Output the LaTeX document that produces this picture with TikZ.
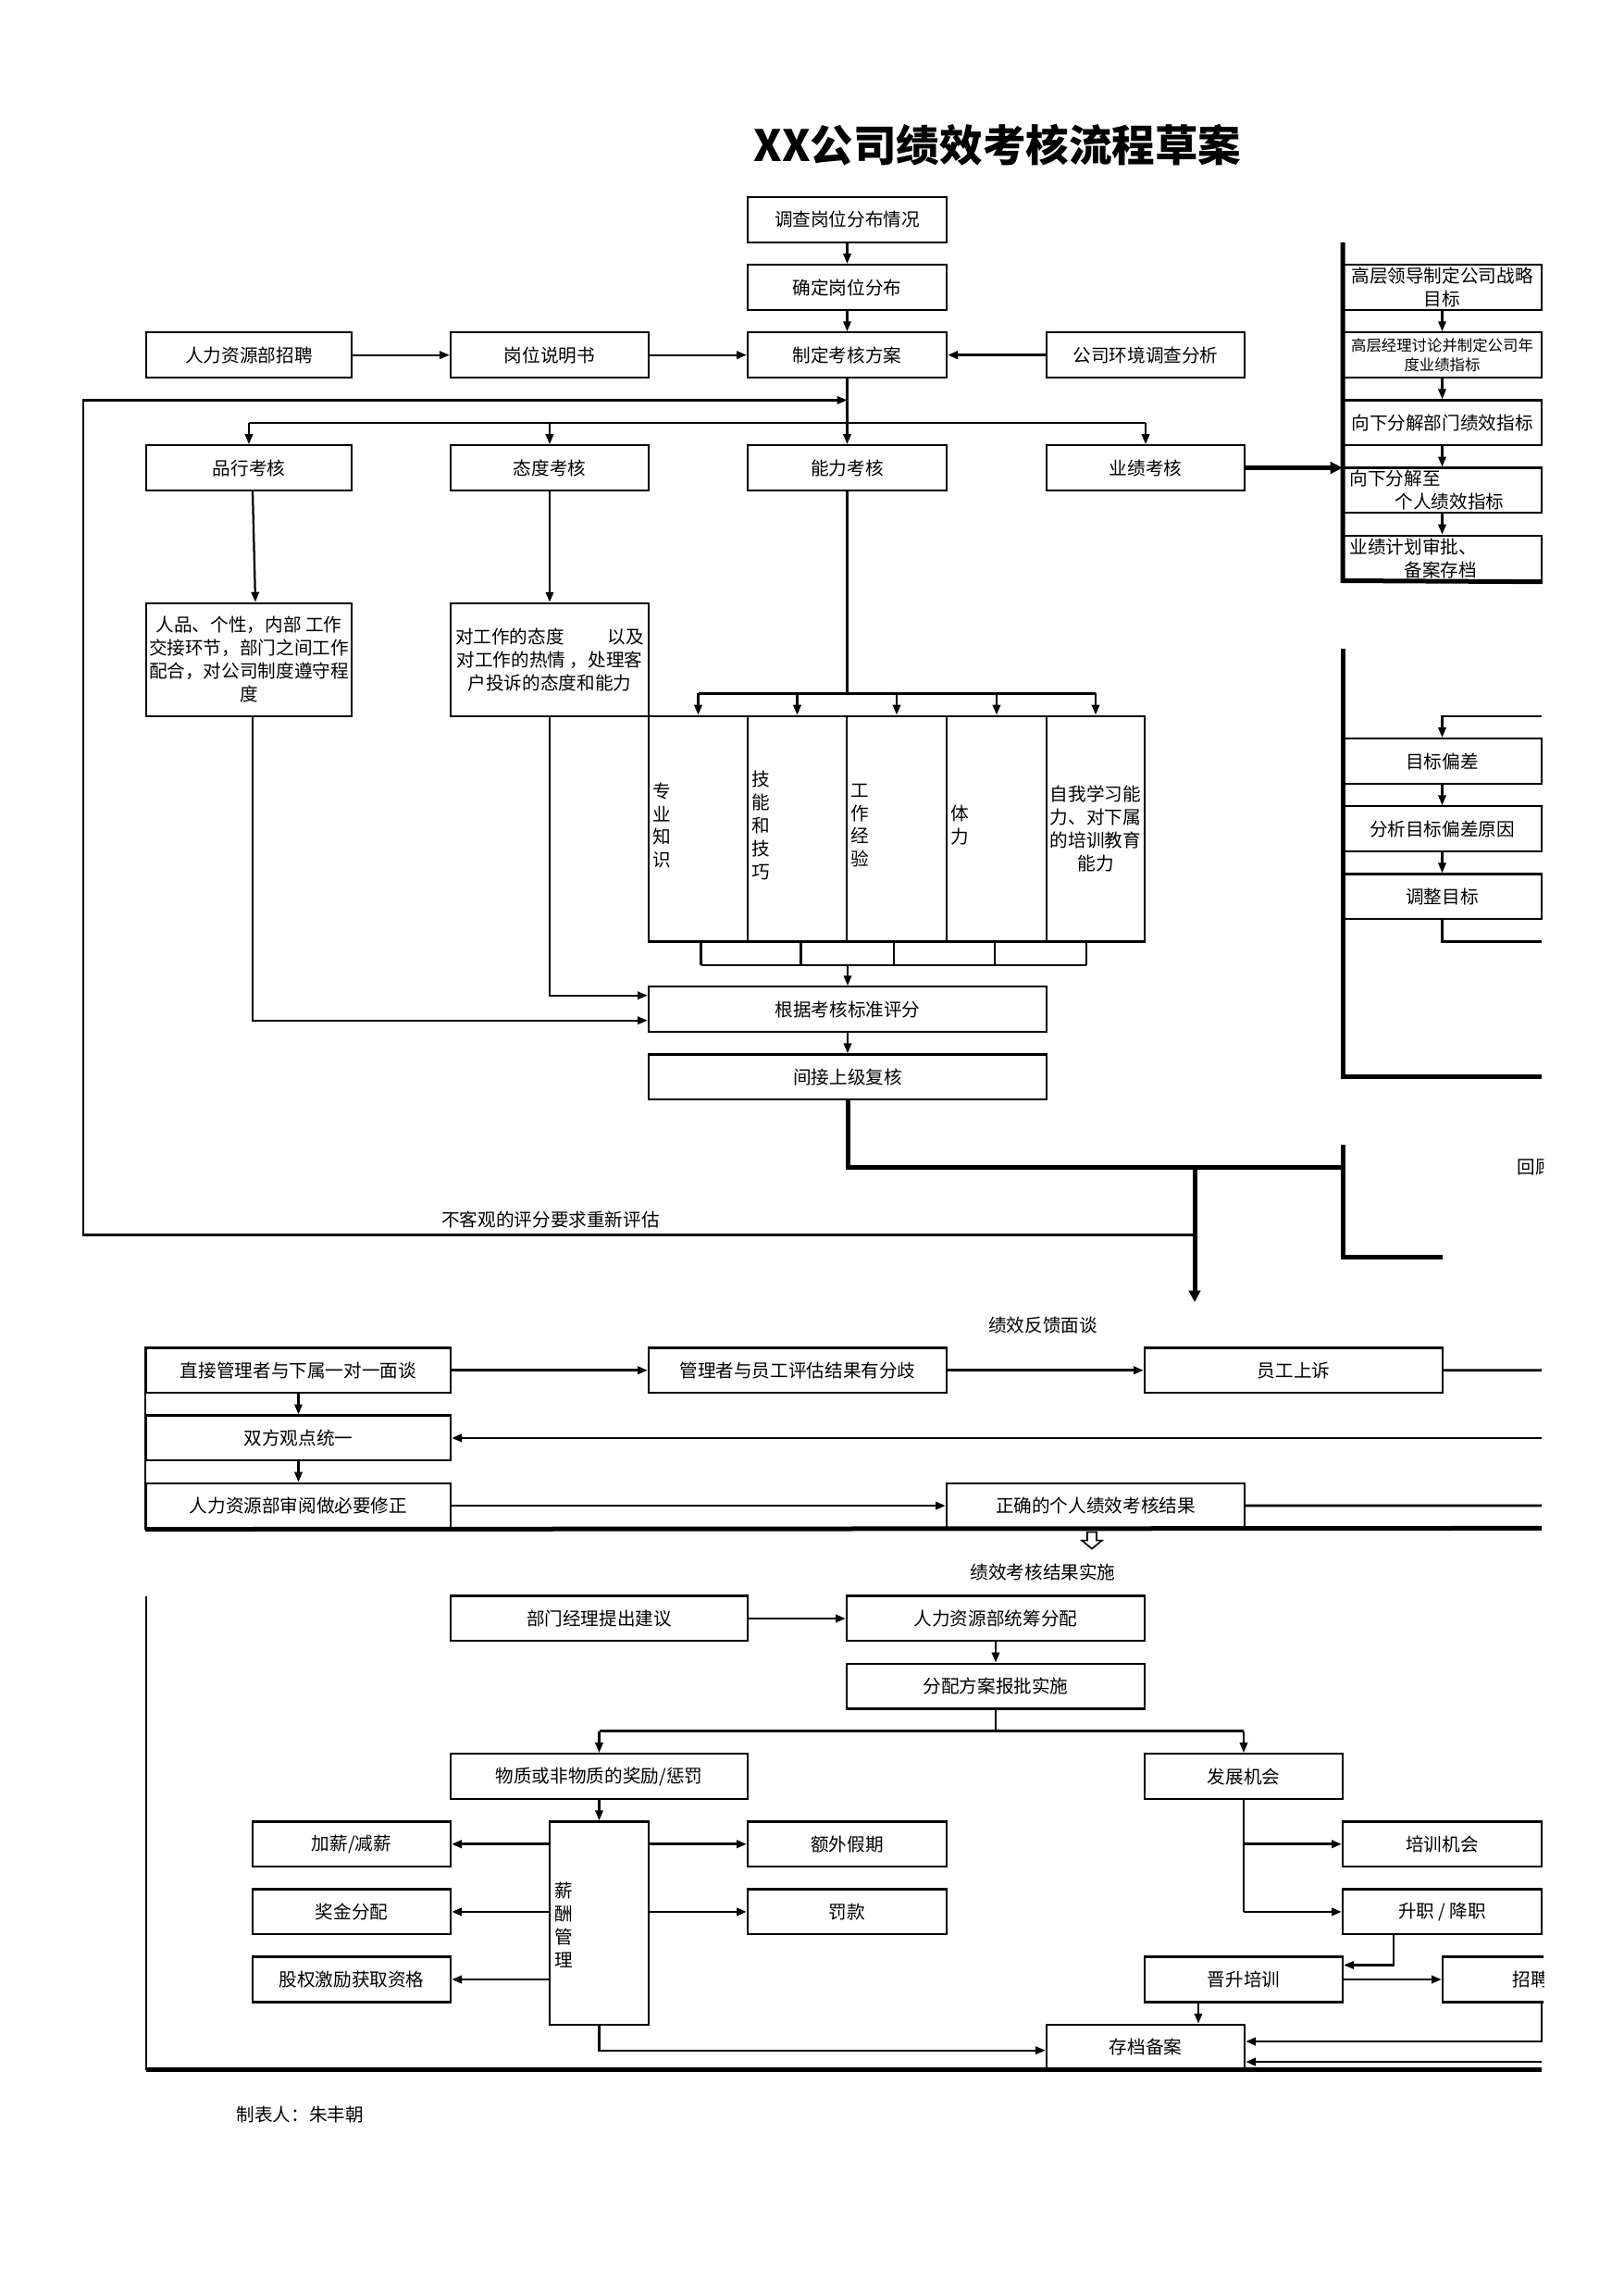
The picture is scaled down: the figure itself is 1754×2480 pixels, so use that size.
\documentclass[tikz,border=0pt]{standalone}
\usepackage{fontspec}
\setmainfont{Noto Sans CJK SC}
\usetikzlibrary{arrows.meta,calc}
\newlength\pxl
\setlength\pxl{0.12mm}
\newcommand\fs{\fontsize{6.7pt}{8.5pt}\selectfont}
\newcommand\fss{\fontsize{5.6pt}{7.4pt}\selectfont}
\newcommand\bxn[7][]{\node[bx,minimum width={(#5-#3)*0.12mm},minimum height={(#6-#4)*0.12mm},#1] (#2) at ({(#3+#5)/2},{(#4+#6)/2}) {#7};}
\tikzset{
  bx/.style={draw,line width=0.28mm,inner sep=0pt,font=\fs},
  ln/.style={line width=0.27mm},
  mid/.style={line width=0.34mm},
  thk/.style={line width=0.6mm},
  arr/.style={-{Triangle[length=1.3mm,width=1.0mm]}},
  lbl/.style={inner sep=0pt,font=\fs},
}
\begin{document}
\begin{tikzpicture}[x=0.12mm,y=-0.12mm]
\useasboundingbox (0,0) rectangle (1754,2480);
\node[inner sep=0pt,font=\fontsize{15.9pt}{19pt}\selectfont\bfseries] (title) at (1078,157) {XX公司绩效考核流程草案};
\begin{scope}
\clip (0,0) rectangle (1668,2480);
% ---- top boxes
\bxn{t1}{808}{213}{1023}{261.8}{调查岗位分布情况}
\bxn{t2}{808}{286.1}{1023}{334.9}{确定岗位分布}
\bxn{hr}{158}{359.3}{380}{408}{人力资源部招聘}
\bxn{gw}{487}{359.3}{701}{408}{岗位说明书}
\bxn{zd}{808}{359.3}{1023}{408}{制定考核方案}
\bxn{hj}{1131}{359.3}{1345}{408}{公司环境调查分析}
\bxn{px}{158}{481.2}{380}{529.9}{品行考核}
\bxn{td}{487}{481.2}{701}{529.9}{态度考核}
\bxn{nl}{808}{481.2}{1023}{529.9}{能力考核}
\bxn{yj}{1131}{481.2}{1345}{529.9}{业绩考核}
\bxn[align=center]{rp}{158}{651.8}{380}{773.7}{人品、个性，内部 工作\\交接环节，部门之间工作\\配合，对公司制度遵守程\\度}
\bxn[align=center]{dg}{487}{651.8}{701}{773.7}{\makebox[204\pxl]{对工作的态度\hfill 以及}\\对工作的热情 ，处理客\\户投诉的态度和能力}
\bxn{s1}{701}{773.7}{808}{1017.5}{}
\bxn{s2}{808}{773.7}{915}{1017.5}{}
\bxn{s3}{915}{773.7}{1023}{1017.5}{}
\bxn{s4}{1023}{773.7}{1131}{1017.5}{}
\bxn[align=center]{s5}{1131}{773.7}{1237}{1017.5}{自我学习能\\力、对下属\\的培训教育\\能力}
\node[lbl,anchor=west,align=left] (s1t) at (705,892) {专\\业\\知\\识};
\node[lbl,anchor=west,align=left] (s2t) at (812,892) {技\\能\\和\\技\\巧};
\node[lbl,anchor=west,align=left] (s3t) at (919,892) {工\\作\\经\\验};
\node[lbl,anchor=west,align=left] (s4t) at (1027,892) {体\\力};
\bxn{pf}{701}{1066.3}{1131}{1115.1}{根据考核标准评分}
\bxn{fh}{701}{1139.4}{1131}{1188.2}{间接上级复核}
% ---- right column
\bxn[align=center]{r1}{1451}{286.1}{1666}{334.9}{高层领导制定公司战略\\目标}
\bxn[align=center,font=\fss]{r2}{1451}{359.3}{1666}{408}{高层经理讨论并制定公司年\\度业绩指标}
\bxn{r3}{1451}{432.4}{1666}{481.2}{向下分解部门绩效指标}
\bxn[align=left,text width=24mm]{r4}{1451}{505.6}{1666}{554.3}{向下分解至\\\hspace*{49\pxl}个人绩效指标}
\bxn[align=left,text width=24mm]{r5}{1451}{578.7}{1666}{627.5}{业绩计划审批、\\\hspace*{59\pxl}备案存档}
\bxn{g1}{1451}{798.1}{1666}{846.9}{目标偏差}
\bxn{g2}{1451}{871.3}{1666}{920}{分析目标偏差原因}
\bxn{g3}{1451}{944.4}{1666}{993.2}{调整目标}
% ---- middle
\bxn{m1}{158}{1456.4}{487}{1505.1}{直接管理者与下属一对一面谈}
\bxn{m2}{701}{1456.4}{1023}{1505.1}{管理者与员工评估结果有分歧}
\bxn{m3}{1237}{1456.4}{1559}{1505.1}{员工上诉}
\bxn{m4}{158}{1529.5}{487}{1578.3}{双方观点统一}
\bxn{m5}{158}{1602.7}{487}{1651.4}{人力资源部审阅做必要修正}
\bxn{m6}{1023}{1602.7}{1345}{1651.4}{正确的个人绩效考核结果}
% ---- bottom
\bxn{b1}{487}{1724.6}{808}{1773.3}{部门经理提出建议}
\bxn{b2}{915}{1724.6}{1237}{1773.3}{人力资源部统筹分配}
\bxn{b3}{915}{1797.7}{1237}{1846.5}{分配方案报批实施}
\bxn{b4}{487}{1895.2}{808}{1944}{物质或非物质的奖励/惩罚}
\bxn{b5}{1237}{1895.2}{1451}{1944}{发展机会}
\bxn{b6}{273}{1968.4}{487}{2017.1}{加薪/减薪}
\bxn{b7}{273}{2041.5}{487}{2090.3}{奖金分配}
\bxn{b8}{273}{2114.6}{487}{2163.4}{股权激励获取资格}
\bxn{b9}{594}{1968.4}{701}{2187.8}{}
\node[lbl,anchor=west,align=left] (b9t) at (599,2080) {薪\\酬\\管\\理};
\bxn{b10}{808}{1968.4}{1023}{2017.1}{额外假期}
\bxn{b11}{808}{2041.5}{1023}{2090.3}{罚款}
\bxn{b12}{1451}{1968.4}{1666}{2017.1}{培训机会}
\bxn{b13}{1451}{2041.5}{1666}{2090.3}{升职 / 降职}
\bxn{b14}{1237}{2114.6}{1451}{2163.4}{晋升培训}
\bxn{b15}{1559}{2114.6}{1750}{2163.4}{招聘}
\bxn{b16}{1131}{2187.8}{1345}{2236.5}{存档备案}
% ---- top connectors
\draw[ln,arr] (t1) -- (t2);
\draw[ln,arr] (t2) -- (zd);
\draw[ln,arr] (hr) -- (gw);
\draw[ln,arr] (gw) -- (zd);
\draw[mid,arr] (hj) -- (zd);
\draw[ln,arr] (zd) -- (nl);
\coordinate (lpBR) at (1291,1334.5);
\coordinate (lpBL) at (90,1334.5);
\coordinate (lpTL) at (90,432.4);
\draw[ln,arr] (lpBR) -- (lpBL) -- (lpTL) -- (lpTL -| zd.south);
\coordinate (brY) at (0,456.8);
\draw[ln] (brY -| px.north) -- (brY -| yj.north);
\draw[ln,arr] (brY -| px.north) -- (px.north);
\draw[ln,arr] (brY -| td.north) -- (td.north);
\draw[ln,arr] (brY -| yj.north) -- (yj.north);
\draw[ln,arr] ($(px.south)+(4,0)$) -- ($(rp.north)+(7,0)$);
\draw[ln,arr] (td) -- (dg);
\coordinate (sbY) at (0,749.4);
\draw[ln] (nl.south) -- (nl.south |- sbY);
\draw[ln] (sbY -| s1.north) -- (sbY -| s5.north);
\foreach \s in {s1,s2,s3,s4,s5} \draw[ln,arr] (sbY -| \s.north) -- (\s.north);
\foreach \s/\d in {s1/3,s2/4,s3/-3,s4/-2,s5/-10} \draw[ln] ($(\s.south)+(\d,0)$) -- ($(\s.south)+(\d,24.4)$);
\draw[ln] ($(s1.south)+(3,24.4)$) -- ($(s5.south)+(-10,24.4)$);
\coordinate (bkY) at (0,1041.9);
\draw[ln,arr] (bkY -| pf.north) -- (pf.north);
\draw[ln,arr] (dg.south) |- ($(pf.west)+(0,-15)$);
\draw[ln,arr] ($(rp.south)+(4,0)$) |- ($(pf.west)+(0,12)$);
\draw[ln,arr] (pf) -- (fh);
\coordinate (fbJ) at (1451,1261.3);
\draw[thk] (fh.south) |- (fbJ);
\coordinate (fbT) at (1451,1237);
\coordinate (fbB) at (1451,1358.9);
\coordinate (fbE) at (1559,1358.9);
\draw[thk] (fbT) -- (fbB) -- (fbE);
\coordinate (fbA) at (1291,1261.3);
\coordinate (fbTip) at (1291,1407);
\draw[thk,-{Triangle[length=1.5mm,width=1.5mm]}] (fbA) -- (fbTip);
% ---- right column connectors
\coordinate (rcT) at (1451,261.8);
\coordinate (rcB) at (1451,627.5);
\draw[thk] (rcT) -- (rcB) -- (r5.south east);
\draw[thk,-{Triangle[length=1.6mm,width=1.5mm]}] (yj.east) -- (yj.east -| rcT);
\draw[ln,arr] (r1) -- (r2);
\draw[ln,arr] (r2) -- (r3);
\draw[ln,arr] (r3) -- (r4);
\draw[ln,arr] (r4) -- (r5);
\coordinate (g0T) at (1451,700.6);
\coordinate (g0B) at (1451,1163.8);
\coordinate (g0E) at (1666,1163.8);
\draw[thk] (g0T) -- (g0B) -- (g0E);
\coordinate (gIn) at (1666,773.7);
\draw[ln,arr] (gIn) -| (g1.north);
\draw[ln,arr] (g1) -- (g2);
\draw[ln,arr] (g2) -- (g3);
\coordinate (gOut) at (1666,1017.5);
\draw[ln] (g3.south) |- (gOut);
\node[lbl,anchor=west] (hg) at (1639,1261.3) {回顾};
\node[lbl] (bkg) at (595,1318) {不客观的评分要求重新评估};
\node[lbl] (fk) at (1127,1432) {绩效反馈面谈};
% ---- middle connectors
\draw[mid,arr] (m1) -- (m2);
\draw[mid,arr] (m2) -- (m3);
\coordinate (m3E) at (1666,1480.8);
\draw[mid] (m3) -- (m3E);
\coordinate (m4E) at (1666,1553.9);
\draw[mid,arr] (m4E) -- (m4);
\draw[ln,arr] (m1) -- (m4);
\draw[ln,arr] (m4) -- (m5);
\draw[mid,arr] (m5) -- (m6);
\coordinate (m6E) at (1666,1627);
\draw[mid] (m6) -- (m6E);
\draw[ln] (m1.north west) -- (m5.south west);
\coordinate (mBE) at (1666,1651.4);
\draw[thk] (m5.south west) -- (mBE);
\coordinate (ha) at ($(m6.south)+(-4,0)$);
\draw[line width=0.2mm,fill=white,shift={(ha)}] (-5,3) -- (-5,12) -- (-11,12) -- (0,21) -- (11,12) -- (5,12) -- (5,3) -- cycle;
\node[lbl] (ss) at (1127,1699) {绩效考核结果实施};
% ---- bottom connectors
\coordinate (bL1) at (158,1724.6);
\coordinate (bL2) at (158,2236.5);
\coordinate (bR2) at (1666,2236.5);
\draw[ln] (bL1) -- (bL2);
\draw[thk] (bL2) -- (bR2);
\draw[mid,arr] (b1) -- (b2);
\draw[ln,arr] (b2) -- (b3);
\coordinate (b3Y) at (0,1870.8);
\draw[mid] (b3.south) -- (b3.south |- b3Y);
\draw[mid] (b3Y -| b4.north) -- (b3Y -| b5.north);
\draw[ln,arr] (b3Y -| b4.north) -- (b4.north);
\draw[ln,arr] (b3Y -| b5.north) -- (b5.north);
\draw[ln,arr] (b4) -- (b9);
\draw[mid,arr] (b9.west |- b6.east) -- (b6.east);
\draw[mid,arr] (b9.west |- b7.east) -- (b7.east);
\draw[mid,arr] (b9.west |- b8.east) -- (b8.east);
\draw[mid,arr] (b9.east |- b10.west) -- (b10.west);
\draw[mid,arr] (b9.east |- b11.west) -- (b11.west);
\draw[mid] (b5.south) -- (b5.south |- b13.west);
\draw[mid,arr] (b5.south |- b12.west) -- (b12.west);
\draw[mid,arr] (b5.south |- b13.west) -- (b13.west);
\draw[ln,arr] ($(b13.south west)+(56,0)$) |- ($(b14.north east)+(0,10)$);
\draw[mid,arr] (b14) -- (b15);
\draw[ln,arr] ($(b14.south)+(-49,0)$) -- ($(b16.north)+(57,0)$);
\draw[ln,arr] (b9.south) |- ($(b16.west)+(0,3.5)$);
\coordinate (aR1) at (1666,2163.4);
\coordinate (aR2) at (1666,2206);
\draw[mid,arr] (aR1) -- (aR2) -- (aR2 -| b16.east);
\coordinate (aR3) at (1666,2228);
\draw[mid,arr] (aR3) -- (aR3 -| b16.east);
\end{scope}
\node[lbl,anchor=west] (zb) at (255,2285) {制表人：朱丰朝};
\end{tikzpicture}
\end{document}
